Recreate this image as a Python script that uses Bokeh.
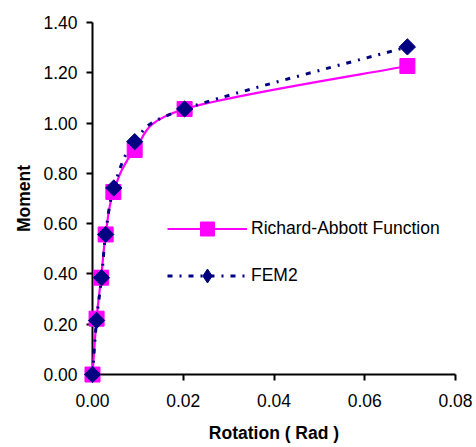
import math
from bokeh.plotting import figure
from bokeh.models import Range1d, Legend, LegendItem, FixedTicker
from bokeh.embed import file_html
from bokeh.resources import INLINE

# ---- data ----
rotation_ra = [0.0, 0.0009, 0.0019, 0.0029, 0.0046, 0.0093, 0.0203, 0.0694]
moment_ra = [0.0, 0.222, 0.385, 0.557, 0.726, 0.893, 1.056, 1.227]
rotation_fem = [0.0, 0.0009, 0.0020, 0.0029, 0.0047, 0.0093, 0.0203, 0.0694]
moment_fem = [0.0, 0.215, 0.385, 0.557, 0.742, 0.926, 1.056, 1.303]
x_ticks = [0.0, 0.02, 0.04, 0.06, 0.08]
y_ticks = [0.0, 0.2, 0.4, 0.6, 0.8, 1.0, 1.2, 1.4]
label_ra = "Richard-Abbott Function"
label_fem = "FEM2"

FONT = "Liberation Sans"
MAGENTA = "#FF00FF"
NAVY = "#000080"


def smooth_segments(xs, ys):
    """Cubic Bezier segments (Catmull-Rom style) through the data points,
    like a spreadsheet's smoothed line."""
    n = len(xs)
    out = dict(x0=[], y0=[], x1=[], y1=[], cx0=[], cy0=[], cx1=[], cy1=[])
    for i in range(n - 1):
        xp, yp = (xs[i - 1], ys[i - 1]) if i > 0 else (xs[i], ys[i])
        xn, yn = (xs[i + 2], ys[i + 2]) if i + 2 < n else (xs[i + 1], ys[i + 1])
        out["x0"].append(xs[i]); out["y0"].append(ys[i])
        out["x1"].append(xs[i + 1]); out["y1"].append(ys[i + 1])
        out["cx0"].append(xs[i] + (xs[i + 1] - xp) / 6)
        out["cy0"].append(ys[i] + (ys[i + 1] - yp) / 6)
        out["cx1"].append(xs[i + 1] - (xn - xs[i]) / 6)
        out["cy1"].append(ys[i + 1] - (yn - ys[i]) / 6)
    return out


p = figure(width=474, height=445, output_backend="svg", toolbar_location=None,
           x_range=Range1d(0, 0.08), y_range=Range1d(0, 1.4),
           min_border_left=92, min_border_right=19, min_border_top=22,
           min_border_bottom=70)
p.outline_line_color = None
p.grid.grid_line_color = None
p.background_fill_color = "white"
p.border_fill_color = "white"

for ax in (p.xaxis[0], p.yaxis[0]):
    ax.axis_line_width = 2
    ax.axis_line_color = "black"
    ax.major_tick_line_width = 2
    ax.major_tick_line_color = "black"
    ax.major_tick_in = 0
    ax.major_tick_out = 6
    ax.minor_tick_line_color = None
    ax.major_label_text_font = FONT
    ax.major_label_text_font_size = "17.5px"
    ax.major_label_text_color = "black"
    ax.axis_label_text_font = FONT
    ax.axis_label_text_font_size = "17.5px"
    ax.axis_label_text_font_style = "bold"
    ax.axis_label_text_color = "black"

p.xaxis[0].ticker = FixedTicker(ticks=x_ticks)
p.yaxis[0].ticker = FixedTicker(ticks=y_ticks)
p.xaxis[0].major_label_overrides = {t: f"{t:.2f}" for t in x_ticks}
p.yaxis[0].major_label_overrides = {t: f"{t:.2f}" for t in y_ticks}
p.xaxis[0].axis_label = "Rotation ( Rad )"
p.yaxis[0].axis_label = "Moment"
p.xaxis[0].major_label_standoff = 13
p.xaxis[0].axis_label_standoff = 13
p.yaxis[0].major_label_standoff = 9
p.yaxis[0].axis_label_standoff = 6

DASH = "5 7 2 7"

seg_ra = smooth_segments(rotation_ra, moment_ra)
seg_fem = smooth_segments(rotation_fem, moment_fem)
b1 = p.bezier(x0="x0", y0="y0", x1="x1", y1="y1", cx0="cx0", cy0="cy0",
              cx1="cx1", cy1="cy1", source=seg_ra, line_color=MAGENTA,
              line_width=2.2, level="overlay")
b2 = p.bezier(x0="x0", y0="y0", x1="x1", y1="y1", cx0="cx0", cy0="cy0",
              cx1="cx1", cy1="cy1", source=seg_fem, line_color=NAVY,
              line_width=3, line_dash=DASH, level="overlay")

m1 = p.scatter(rotation_ra, moment_ra, marker="square", size=15,
               fill_color=MAGENTA, line_color=MAGENTA, level="overlay")
# legend swatch for FEM2 (a diamond hidden under the first FEM2 marker)
m2_leg = p.scatter(rotation_fem[:1], moment_fem[:1], marker="diamond", size=15,
                   fill_color=NAVY, line_color=NAVY, level="overlay")
m2 = p.scatter(rotation_fem, moment_fem, marker="square", size=11.5,
               angle=math.pi / 4, fill_color=NAVY, line_color=NAVY, level="overlay")

legend = Legend(items=[LegendItem(label=label_ra, renderers=[b1, m1]),
                       LegendItem(label=label_fem, renderers=[b2, m2_leg])],
                location=(75, 81), glyph_width=80, glyph_height=35,
                label_height=35, label_standoff=4, spacing=12, padding=0,
                margin=0, border_line_color=None, background_fill_alpha=0,
                label_text_font=FONT, label_text_font_size="17.5px",
                label_text_color="black")
p.add_layout(legend, "center")

open("out.html", "w").write(file_html(p, INLINE))
